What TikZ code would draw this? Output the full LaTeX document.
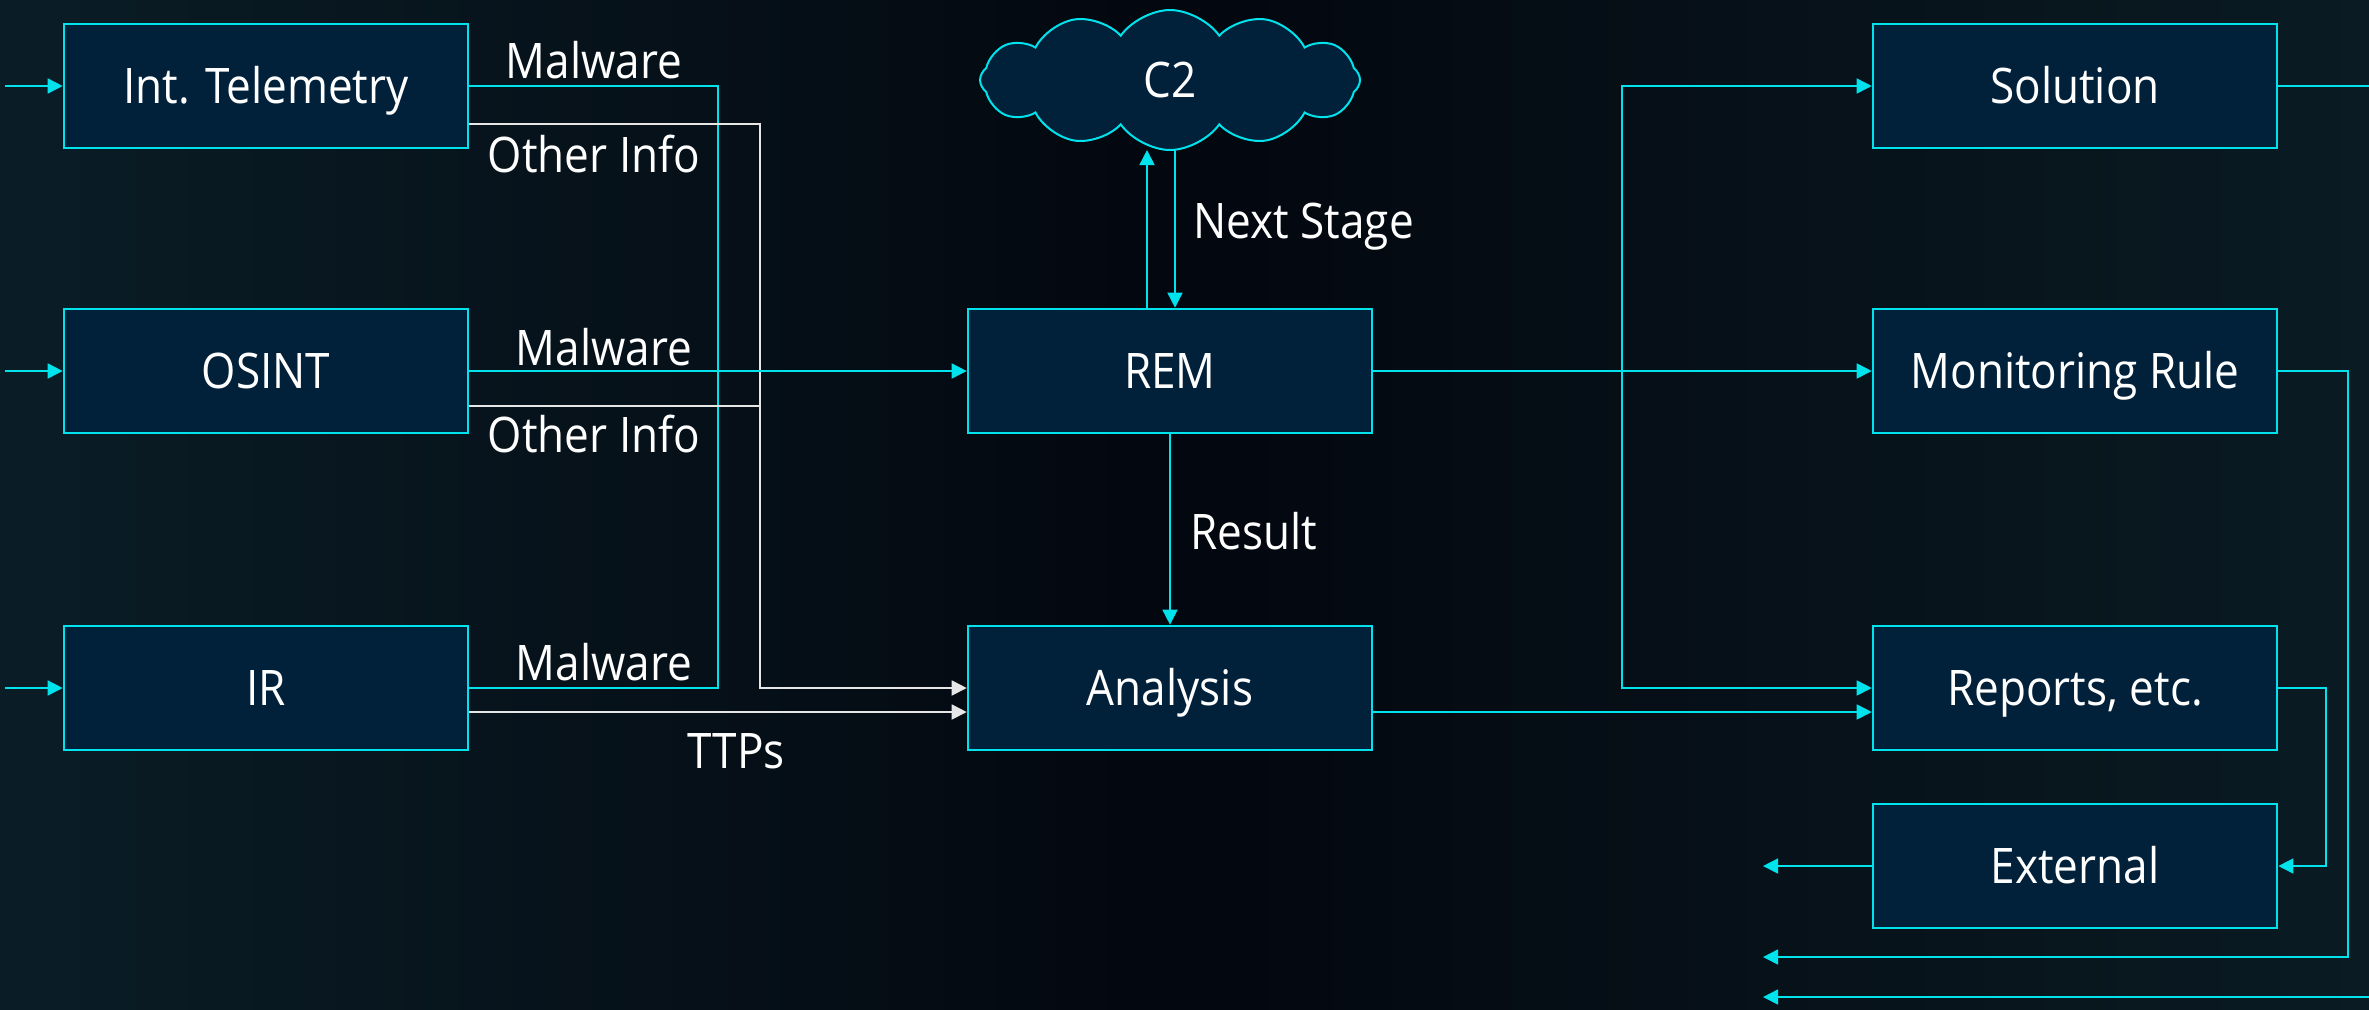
\documentclass[tikz,border=0pt]{standalone}
\usepackage{fontspec}
\setmainfont[FakeStretch=0.9]{Open Sans}
\usetikzlibrary{shapes.symbols,arrows.meta,calc}
\definecolor{cy}{HTML}{00E3EC}
\definecolor{boxfill}{HTML}{01203A}
\definecolor{bgl}{HTML}{0A1D26}
\definecolor{bgm}{HTML}{03070F}
\definecolor{bgr}{HTML}{0A1B23}
\definecolor{wl}{HTML}{E6E6E6}
\begin{document}
\begin{tikzpicture}[x=0.5pt,y=-0.5pt,
  box/.style={draw=cy, fill=boxfill, line width=1.3pt, minimum width=202pt, minimum height=62pt, inner sep=0pt, text=white, text height=17.5pt, text depth=0pt, font=\fontsize{24.5}{28}\selectfont},
  cyl/.style={draw=cy, line width=0.8pt},
  whl/.style={draw=wl, line width=0.9pt},
  arr/.style={-{Triangle[length=7.5pt,width=7.5pt]}},
  lbl/.style={text=white, font=\fontsize{24.5}{28}\selectfont, inner sep=0pt, anchor=base}
]
\useasboundingbox (0,0) rectangle (2369,1009);
\clip (0,0) rectangle (2369,1009);
\shade[left color=bgl, right color=bgr, middle color=bgm] (0,0) rectangle (2369,1009);

% nodes
\node[box] (tel) at (266,86) {Int. Telemetry};
\node[box] (osint) at (266,371) {OSINT};
\node[box] (ir) at (266,688) {IR};
\node[box] (rem) at (1170,371) {REM};
\node[box] (ana) at (1170,688) {Analysis};
\node[box] (sol) at (2075,86) {Solution};
\node[box] (mon) at (2075,371) {Monitoring Rule};
\node[box] (rep) at (2075,688) {Reports, etc.};
\node[box] (ext) at (2075,866) {External};
\node[cloud, draw=cy, fill=boxfill, line width=1pt, cloud puffs=12, cloud puff arc=110, aspect=2.7,
      minimum width=190pt, minimum height=70pt, inner sep=0pt, text=white,
      text height=17.5pt, text depth=0pt,
      font=\fontsize{24.5}{28}\selectfont] (c2) at (1170,80) {C2};

% coordinates
\coordinate (in1) at (5,86);
\coordinate (in2) at (5,371);
\coordinate (in3) at (5,688);
\coordinate (mx) at (718,0);
\coordinate (ox) at (760,0);
\coordinate (upt) at (1147,150);
\coordinate (dnt) at (1175,150);
\coordinate (bx) at (1622,0);
\coordinate (o1) at (1763,957);
\coordinate (o2) at (1763,866);
\coordinate (o3) at (1763,997);

% inputs
\draw[cyl,arr] (in1) -- (tel.west);
\draw[cyl,arr] (in2) -- (osint.west);
\draw[cyl,arr] (in3) -- (ir.west);

% left side
\draw[cyl] (tel.east) -- (tel.east -| mx) -- (ir.east -| mx) -- (ir.east);
\draw[whl,arr] ($(tel.east)+(0,38)$) -- ($(tel.east -| ox)+(0,38)$) -- (ana.west -| ox) -- (ana.west);
\draw[whl] ($(osint.east)+(0,35)$) -- ($(osint.east -| ox)+(0,35)$);
\draw[cyl,arr] (osint.east) -- (rem.west);
\draw[whl,arr] ($(ir.east)+(0,24)$) -- ($(ana.west)+(0,24)$);

% labels
\node[lbl] (l1) at (594,78) {Malware};
\node[lbl] (l2) at (594,172) {Other Info};
\node[lbl] (l3) at (604,365) {Malware};
\node[lbl] (l4) at (594,452) {Other Info};
\node[lbl] (l5) at (604,680) {Malware};
\node[lbl] (l6) at (736,768) {TTPs};
\node[lbl, anchor=base west] (l7) at (1193,238) {Next Stage};
\node[lbl, anchor=base west] (l8) at (1190,549) {Result};

% REM <-> C2
\draw[cyl,arr] (rem.north -| upt) -- (upt);
\draw[cyl,arr] (dnt) -- (rem.north -| dnt);
\draw[cyl,arr] (rem.south) -- (ana.north);

% right side
\draw[cyl,arr] (rem.east) -- (mon.west);
\draw[cyl,arr] (rem.east -| bx) -- (sol.west -| bx) -- (sol.west);
\draw[cyl,arr] (rem.east -| bx) -- (rep.west -| bx) -- (rep.west);
\draw[cyl,arr] ($(ana.east)+(0,24)$) -- ($(rep.west)+(0,24)$);

\draw[cyl,arr] (mon.east) -- (2348,371) -- (2348,957) -- (o1);
\draw[cyl,arr] (rep.east) -- (2326,688) -- (2326,866) -- (ext.east);
\draw[cyl,arr] (ext.west) -- (o2);
\draw[cyl,arr] (sol.east) -- (2420,86) -- (2420,997) -- (o3);
\end{tikzpicture}
\end{document}
